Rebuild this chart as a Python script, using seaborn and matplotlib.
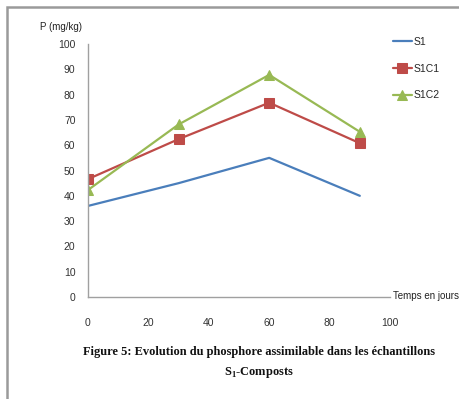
import matplotlib
matplotlib.use("Agg")
import matplotlib.pyplot as plt
import seaborn as sns
import pandas as pd
from matplotlib.patches import Rectangle

days = [0, 30, 60, 90]
s1 = [36, 45, 55, 40]
s1c1 = [46.6, 62.4, 76.8, 60.8]
s1c2 = [42.3, 68.2, 87.8, 65.3]
series_names = ["S1", "S1C1", "S1C2"]
x_ticks = [0, 20, 40, 60, 80, 100]
y_ticks = [0, 10, 20, 30, 40, 50, 60, 70, 80, 90, 100]

sns.set_theme(style="white")
plt.rcParams['font.family'] = ['Liberation Sans', 'DejaVu Sans']

fig = plt.figure(figsize=(4.59, 3.99), dpi=100)
ax = fig.add_axes([0.1917, 0.2556, 0.8497 - 0.1917, 0.8897 - 0.2556])

df = pd.DataFrame({
    "Temps": days * 3,
    "P": s1 + s1c1 + s1c2,
    "Serie": [series_names[0]] * 4 + [series_names[1]] * 4 + [series_names[2]] * 4,
})
styles = {
    "S1": dict(color="#4A7EBB", marker=None),
    "S1C1": dict(color="#BE4B48", marker="s"),
    "S1C2": dict(color="#98B954", marker="^"),
}
for name in series_names:
    sub = df[df["Serie"] == name]
    st = styles[name]
    kw = dict(marker=st["marker"], markersize=7.5, markeredgecolor=st["color"]) if st["marker"] else {}
    sns.lineplot(data=sub, x="Temps", y="P", ax=ax, color=st["color"], linewidth=1.6,
                 label=name, **kw)

ax.set_xlim(0, 100)
ax.set_ylim(0, 100)
ax.set_xticks(x_ticks)
ax.set_yticks(y_ticks)
ax.set_xlabel("")
ax.set_ylabel("")
for s in ["top", "right"]:
    ax.spines[s].set_visible(False)
for s in ["left", "bottom"]:
    ax.spines[s].set_color("#A0A0A0")
    ax.spines[s].set_linewidth(1.0)
ax.tick_params(axis="both", direction="out", length=4, width=1, color="#A0A0A0",
               labelsize=7.5, labelcolor="#333333", pad=5)
ax.tick_params(axis="x", pad=11)

ax.legend(loc="upper left", bbox_to_anchor=(0.845, 0.92), bbox_transform=fig.transFigure,
          frameon=False, fontsize=7.5, handlelength=1.8, labelspacing=1.6,
          handletextpad=0.2, borderpad=0)

fig.text(0.087, 0.932, "P (mg/kg)", fontsize=7, color="#222222", ha="left", va="center")
fig.text(0.857, 0.258, "Temps en jours", fontsize=7, color="#222222", ha="left", va="center")

cap = {"family": ["Liberation Serif", "DejaVu Serif"], "weight": "bold", "fontsize": 8.9, "color": "#111111"}
fig.text(0.565, 0.117, "Figure 5: Evolution du phosphore assimilable dans les échantillons",
         ha="center", va="center", **cap)
fig.text(0.565, 0.066, r"S$_\mathregular{1}$-Composts", ha="center", va="center", **cap)

fig.patches.append(Rectangle((7 / 459, -0.05), 1.2, 1 - 7 / 399 + 0.05, transform=fig.transFigure,
                             fill=False, edgecolor="#9A9A9A", linewidth=1.8))

fig.savefig("out.png", dpi=100)
